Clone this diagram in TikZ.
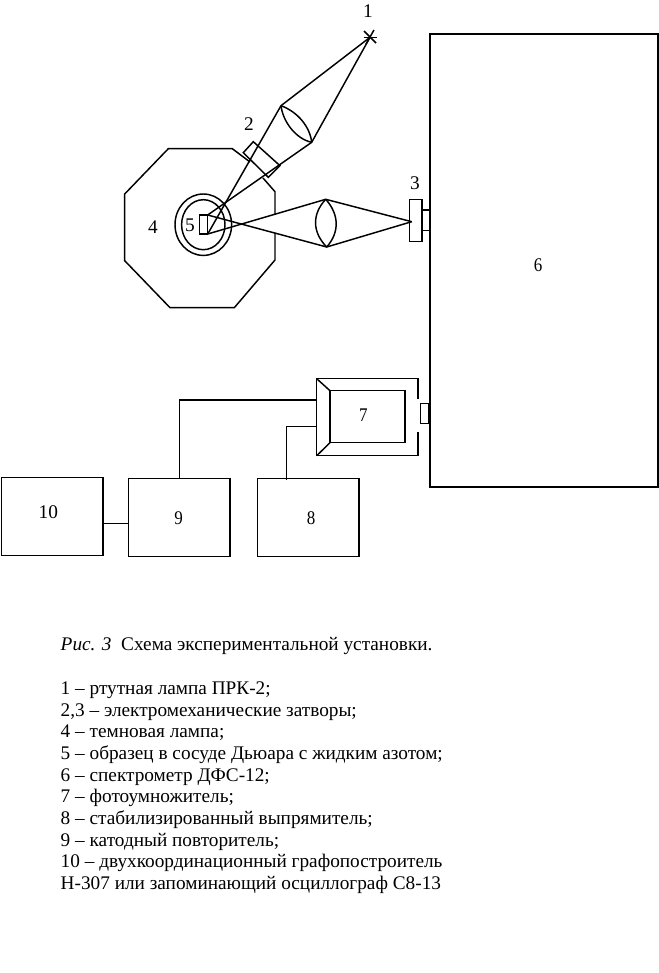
\documentclass[tikz,border=0pt]{standalone}
\usepackage{fontspec}
\setmainfont{Liberation Serif}

\tikzset{
  blockbox/.style={draw,line width=1.1pt,inner sep=0pt,outer sep=0pt},
  numlabel/.style={font=\fontsize{14.5}{16}\selectfont,inner sep=0pt},
  narrowlabel/.style={numlabel,transform shape,xscale=0.88},
  captionline/.style={font=\fontsize{14.45}{16}\selectfont,anchor=base west,inner sep=0pt}
}

\begin{document}
\begin{tikzpicture}[x=0.75pt,y=-0.75pt,line width=1.1pt]
\useasboundingbox (0,0) rectangle (658,973);

% lamp and optics points:
\coordinate (lamp) at (370,37.3);
\coordinate (lensAtop) at (281,105.7);
\coordinate (lensAbot) at (311.7,142.3);
\coordinate (lensBtop) at (325.7,199.3);
\coordinate (lensBbot) at (326.7,247);
\coordinate (slit) at (411.7,221.7);
\coordinate (sampleTop) at (207.7,215);
\coordinate (sampleBot) at (207.7,234);

% 4: dark lamp housing, open where the beams pass
\draw (275,214) -- (275,191.7) -- (263,178);
\draw (250,162) -- (232.3,148.7) -- (168.3,148.7) -- (124.7,194) -- (124.7,260.7)
  -- (170,307.7) -- (234.3,307.7) -- (275,260) -- (275,232.7);

% 5: dewar and sample
\draw (203.3,224.7) ellipse (28.3 and 30.7);
\draw (203.3,224.7) ellipse (21.7 and 25);
\node[blockbox,minimum width=6.3pt,minimum height=14.25pt,fill=white] (sample) at (203.5,224.5) {};

% shutter 2 (turned):
\draw[fill=white] (253.3,141.7) coordinate (shutA) -- (280,165.7) coordinate (shutB)
  -- (268.3,177.3) coordinate (shutC) -- (243.3,152.7) coordinate (shutD) -- cycle;

% rays
\draw (lamp) -- (lensAtop) -- (sampleBot);
\draw (lamp) -- (lensAbot) -- (sampleTop);
\draw (sampleTop) -- (lensBbot) -- (slit);
\draw (sampleBot) -- (lensBtop) -- (slit);

% lenses
\draw (lensAtop) .. controls (283,122) and (296,139) .. (lensAbot);
\draw (lensAtop) .. controls (298,112) and (310,127) .. (lensAbot);
\draw (lensBtop) .. controls (312,214) and (312,232) .. (lensBbot);
\draw (lensBtop) .. controls (339,214) and (340,232) .. (lensBbot);

% 1: lamp
\draw (364,31) -- (376,43);
\draw (366,44) -- (374,30);
\draw (363.5,37.5) -- (376.5,37.5);

% 6: spectrometer and shutters
\node[blockbox,minimum width=171pt,minimum height=339.75pt] (spectro) at (544,260.5) {};
\node[blockbox,minimum width=9.2pt,minimum height=31.8pt] (shutter3) at (415.85,220.5) {};
\node[blockbox,minimum width=6pt,minimum height=15.5pt] (port3) at (426,220.35) {};
\node[blockbox,minimum width=6.2pt,minimum height=15pt] (port7) at (424.85,413.7) {};

% 7: photomultiplier
\node[blockbox,minimum width=56.25pt,minimum height=39pt] (pmt) at (367.5,416.7) {};
\draw (418,399.3) -- (418,378.7) coordinate (caseNE) -- (316.7,378.7) coordinate (caseNW)
  -- (316.7,455.7) coordinate (caseSW) -- (418,455.7) coordinate (caseSE) -- (418,431.7);
\draw (caseNW) -- (pmt.north west);
\draw (caseSW) -- (pmt.south west);

% lower blocks:
\node[blockbox,minimum width=76pt,minimum height=58.8pt] (box10) at (52.35,516.5) {};
\node[blockbox,minimum width=76pt,minimum height=58.5pt] (box9) at (179.35,517.7) {};
\node[blockbox,minimum width=76pt,minimum height=58.5pt] (box8) at (308.35,517.7) {};

% wires
\draw (box10.east |- 0,523.7) -- (box9.west |- 0,523.7);
\draw (box9.north) -- (box9.north |- 0,400) -- (caseNW |- 0,400);
\draw (286.7,480) coordinate (wire8) -- (wire8 |- 0,426.7) -- (caseNW |- 0,426.7);

% labels
\node[numlabel] (lab1) at (368,11) {1};
\node[numlabel] (lab2) at (249,124) {2};
\node[numlabel] (lab3) at (415,183) {3};
\node[numlabel] (lab4) at (153,227) {4};
\node[numlabel] (lab5) at (190,225) {5};
\node[narrowlabel] (lab6) at (538,265) {6};
\node[narrowlabel] (lab7) at (363.3,415) {7};
\node[narrowlabel] (lab8) at (311,518) {8};
\node[narrowlabel] (lab9) at (178.7,518) {9};
\node[numlabel] (lab10) at (48.3,512) {10};

% caption
\node[captionline] (capt) at (60,650) {\textit{Рис. 3}\ \ Схема экспериментальной установки.};
\node[captionline] (line1) at (60,694.3) {1 – ртутная лампа ПРК-2;};
\node[captionline] (line2) at (60,716) {2,3 – электромеханические затворы;};
\node[captionline] (line3) at (60,737.7) {4 – темновая лампа;};
\node[captionline] (line4) at (60,759.4) {5 – образец в сосуде Дьюара с жидким азотом;};
\node[captionline] (line5) at (60,781.1) {6 – спектрометр ДФС-12;};
\node[captionline] (line6) at (60,802.8) {7 – фотоумножитель;};
\node[captionline] (line7) at (60,824.5) {8 – стабилизированный выпрямитель;};
\node[captionline] (line8) at (60,846.2) {9 – катодный повторитель;};
\node[captionline] (line9) at (60,867.9) {10 – двухкоординационный графопостроитель};
\node[captionline] (line10) at (60,889.6) {Н-307 или запоминающий осциллограф С8-13};

\end{tikzpicture}
\end{document}
